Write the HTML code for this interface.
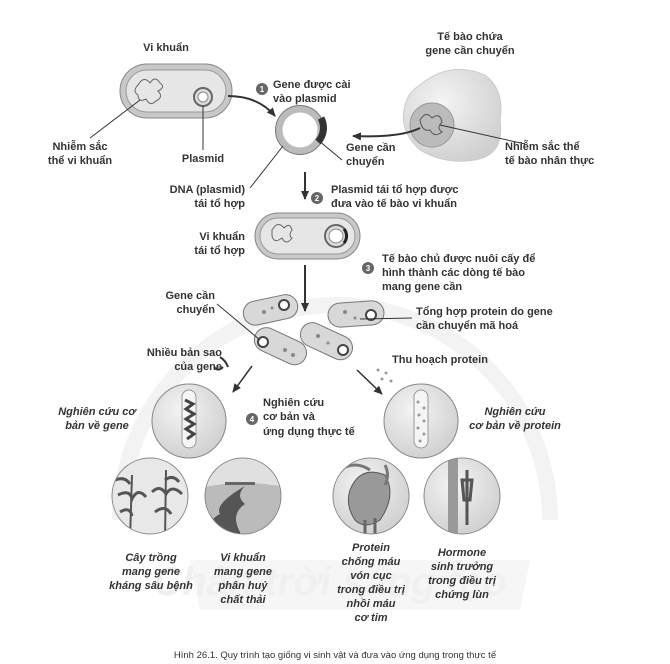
<!DOCTYPE html>
<html><head><meta charset="utf-8"><style>
body{margin:0;background:#fff}
svg{display:block}
text{font-family:"Liberation Sans",sans-serif;font-size:11px;font-weight:bold;fill:#333}
.i{font-style:italic}
.c{text-anchor:middle}
.r{text-anchor:end}
</style></head><body>
<svg width="670" height="664" viewBox="0 0 670 664">
<defs>
<marker id="a" markerUnits="userSpaceOnUse" markerWidth="10" markerHeight="10" refX="8" refY="5" orient="auto"><path d="M0,1 L9,5 L0,9 Z" fill="#333"/></marker>
<radialGradient id="g" cx="0.4" cy="0.35" r="0.7"><stop offset="0" stop-color="#f4f4f4"/><stop offset="1" stop-color="#cfcfcf"/></radialGradient>
<clipPath id="c1"><circle cx="150" cy="496" r="38"/></clipPath>
<clipPath id="c2"><circle cx="243" cy="496" r="38"/></clipPath>
<clipPath id="c3"><circle cx="371" cy="496" r="38"/></clipPath>
<clipPath id="c4"><circle cx="462" cy="496" r="38"/></clipPath>
</defs>
<!-- watermark -->
<path d="M120,520 A215,215 0 0 1 550,520" fill="none" stroke="#f3f3f3" stroke-width="16"/>
<path d="M190,560 L530,560 L520,610 L200,610 Z" fill="#f6f6f6"/>
<text x="330" y="595" class="c" style="font-size:40px;fill:#f0f0f0;font-style:italic">Chân trời sáng tạo</text>

<!-- bacterium 1 -->
<text x="166" y="51" class="c">Vi khuẩn</text>
<rect x="120" y="64" width="112" height="54" rx="27" fill="#c8c8c8" stroke="#888"/>
<rect x="126" y="70" width="100" height="42" rx="21" fill="#e6e6e6" stroke="#999"/>
<path d="M138,85 q6,-10 12,-2 q5,-8 10,0 q6,4 -2,8 q6,6 -2,10 q-6,6 -10,-2 q-8,4 -8,-4 q-6,-4 0,-10z" fill="none" stroke="#666"/>
<circle cx="203" cy="97" r="9" fill="#ddd" stroke="#666" stroke-width="2"/>
<circle cx="203" cy="97" r="5" fill="#fff" stroke="#888"/>
<line x1="140" y1="100" x2="90" y2="138" stroke="#333"/>
<line x1="203" y1="106" x2="203" y2="150" stroke="#333"/>
<text x="80" y="150" class="c">Nhiễm sắc</text>
<text x="80" y="164" class="c">thể vi khuẩn</text>
<text x="203" y="162" class="c">Plasmid</text>
<path d="M228,96 Q258,96 275,116" fill="none" stroke="#333" stroke-width="2" marker-end="url(#a)"/>
<circle cx="262" cy="89" r="6" fill="#666"/><text x="262" y="92" class="c" style="font-size:8px;fill:#fff">1</text>
<text x="273" y="88">Gene được cài</text>
<text x="273" y="102">vào plasmid</text>

<!-- plasmid -->
<circle cx="300" cy="130" r="21" fill="#fff" stroke="#bbb" stroke-width="7"/>
<circle cx="300" cy="130" r="24.5" fill="none" stroke="#777" stroke-width="1"/>
<path d="M321,118 A21,21 0 0 1 318,142" fill="none" stroke="#333" stroke-width="7"/>
<line x1="318" y1="140" x2="342" y2="160" stroke="#333"/>
<line x1="283" y1="146" x2="250" y2="188" stroke="#333"/>
<text x="346" y="151">Gene cần</text>
<text x="346" y="165">chuyển</text>

<!-- eukaryotic cell -->
<text x="470" y="40" class="c">Tế bào chứa</text>
<text x="470" y="54" class="c">gene cần chuyển</text>
<path d="M420,85 Q450,60 485,75 Q505,90 500,120 Q505,155 475,160 Q445,165 420,150 Q398,130 405,105 Q408,92 420,85Z" fill="url(#g)" stroke="#ccc"/>
<circle cx="432" cy="125" r="22" fill="#bbb" stroke="#999"/>
<path d="M420,120 q6,-10 12,-2 q8,-6 10,4 q-6,6 0,10 q-8,6 -12,-2 q-8,2 -10,-10z" fill="none" stroke="#555"/>
<line x1="440" y1="125" x2="525" y2="144" stroke="#333"/>
<path d="M420,128 Q400,138 353,136" fill="none" stroke="#333" stroke-width="2" marker-end="url(#a)"/>
<text x="505" y="150">Nhiễm sắc thể</text>
<text x="505" y="164">tế bào nhân thực</text>

<!-- step 2 -->
<text x="245" y="193" class="r">DNA (plasmid)</text>
<text x="245" y="207" class="r">tái tổ hợp</text>
<line x1="305" y1="172" x2="305" y2="199" stroke="#333" stroke-width="2" marker-end="url(#a)"/>
<circle cx="317" cy="198" r="6" fill="#666"/><text x="317" y="201" class="c" style="font-size:8px;fill:#fff">2</text>
<text x="331" y="193">Plasmid tái tổ hợp được</text>
<text x="331" y="207">đưa vào tế bào vi khuẩn</text>

<!-- bacterium 2 -->
<rect x="255" y="213" width="105" height="46" rx="23" fill="#c8c8c8" stroke="#888"/>
<rect x="260" y="218" width="95" height="36" rx="18" fill="#e6e6e6" stroke="#999"/>
<path d="M272,230 q6,-10 12,-2 q6,-6 8,2 q-4,6 0,8 q-6,8 -10,0 q-8,6 -10,-2z" fill="none" stroke="#666"/>
<circle cx="336" cy="236" r="11" fill="#ddd" stroke="#666" stroke-width="2"/>
<circle cx="336" cy="236" r="7" fill="#fff" stroke="#888"/>
<path d="M344,229 A11,11 0 0 1 344,243" fill="none" stroke="#222" stroke-width="3"/>
<text x="245" y="240" class="r">Vi khuẩn</text>
<text x="245" y="254" class="r">tái tổ hợp</text>

<!-- step 3 -->
<circle cx="368" cy="268" r="6" fill="#666"/><text x="368" y="271" class="c" style="font-size:8px;fill:#fff">3</text>
<text x="382" y="262">Tế bào chủ được nuôi cấy để</text>
<text x="382" y="276">hình thành các dòng tế bào</text>
<text x="382" y="290">mang gene cần</text>
<line x1="305" y1="265" x2="305" y2="311" stroke="#333" stroke-width="2" marker-end="url(#a)"/>

<!-- small bacteria -->
<g fill="#d8d8d8" stroke="#777">
<rect x="243" y="298" width="55" height="24" rx="12" transform="rotate(-12 270 310)"/>
<rect x="328" y="302" width="56" height="24" rx="12" transform="rotate(-4 356 314)"/>
<rect x="253" y="334" width="55" height="24" rx="12" transform="rotate(25 280 346)"/>
<rect x="299" y="329" width="55" height="24" rx="12" transform="rotate(25 326 341)"/>
</g>
<g fill="#fff" stroke="#444" stroke-width="2">
<circle cx="284" cy="305" r="5"/><circle cx="371" cy="315" r="5"/><circle cx="263" cy="342" r="5"/><circle cx="343" cy="350" r="5"/>
</g>
<g fill="#888"><circle cx="264" cy="312" r="2"/><circle cx="272" cy="308" r="1.5"/><circle cx="345" cy="312" r="2"/><circle cx="355" cy="318" r="1.5"/><circle cx="285" cy="350" r="2"/><circle cx="293" cy="355" r="2"/><circle cx="318" cy="336" r="2"/><circle cx="328" cy="343" r="1.5"/></g>
<text x="215" y="299" class="r">Gene cần</text>
<text x="215" y="313" class="r">chuyển</text>
<line x1="217" y1="304" x2="260" y2="340" stroke="#333"/>
<line x1="360" y1="319" x2="412" y2="318" stroke="#333"/>
<text x="416" y="315">Tổng hợp protein do gene</text>
<text x="416" y="329">cần chuyển mã hoá</text>
<text x="222" y="356" class="r">Nhiều bản sao</text>
<text x="222" y="370" class="r">của gene</text>
<path d="M214,367 q4,5 9,0 M220,357 q6,4 8,10" fill="none" stroke="#333" stroke-width="2"/>
<text x="392" y="363">Thu hoạch protein</text>
<g fill="#999"><circle cx="378" cy="370" r="1.5"/><circle cx="386" cy="373" r="1.5"/><circle cx="382" cy="379" r="1.5"/><circle cx="391" cy="381" r="1.5"/></g>
<line x1="252" y1="366" x2="233" y2="392" stroke="#333" stroke-width="1.5" marker-end="url(#a)"/>
<line x1="357" y1="370" x2="382" y2="394" stroke="#333" stroke-width="1.5" marker-end="url(#a)"/>

<!-- research circles -->
<circle cx="189" cy="421" r="37" fill="url(#g)" stroke="#888"/>
<rect x="182" y="390" width="14" height="58" rx="7" fill="#f5f5f5" stroke="#999"/>
<path d="M185,400 l8,4 -7,5 8,5 -8,5 8,5 -8,5 8,5 -7,5" fill="none" stroke="#444" stroke-width="3"/>
<circle cx="421" cy="421" r="37" fill="url(#g)" stroke="#888"/>
<rect x="414" y="390" width="14" height="58" rx="7" fill="#f5f5f5" stroke="#999"/>
<g fill="#999"><circle cx="418" cy="402" r="1.5"/><circle cx="424" cy="408" r="1.5"/><circle cx="419" cy="415" r="1.5"/><circle cx="424" cy="421" r="1.5"/><circle cx="418" cy="428" r="1.5"/><circle cx="424" cy="434" r="1.5"/><circle cx="420" cy="441" r="1.5"/></g>
<circle cx="252" cy="419" r="6" fill="#666"/><text x="252" y="422" class="c" style="font-size:8px;fill:#fff">4</text>
<text x="263" y="406">Nghiên cứu</text>
<text x="263" y="420">cơ bản và</text>
<text x="263" y="435">ứng dụng thực tế</text>
<text x="97" y="415" class="c i">Nghiên cứu cơ</text>
<text x="97" y="429" class="c i">bản về gene</text>
<text x="515" y="415" class="c i">Nghiên cứu</text>
<text x="515" y="429" class="c i">cơ bản về protein</text>

<!-- application circles -->
<circle cx="150" cy="496" r="38" fill="#e8e8e8"/>
<g clip-path="url(#c1)">
<path d="M130,540 L132,475 M165,540 L166,470" stroke="#555" stroke-width="2"/>
<path d="M118,495 q12,-6 14,4 q6,-12 14,-2 M152,492 q8,-8 14,2 q6,-10 16,0 M120,512 q10,-6 12,4 M155,512 q10,-8 16,2 M115,480 q10,-4 15,4 M165,480 q8,-6 14,2" fill="none" stroke="#555" stroke-width="3"/>
</g>
<circle cx="150" cy="496" r="38" fill="none" stroke="#888"/>
<circle cx="243" cy="496" r="38" fill="#e0e0e0"/>
<g clip-path="url(#c2)">
<path d="M200,488 Q243,478 290,488 L290,540 L200,540Z" fill="#bbb"/>
<path d="M245,486 q-10,10 0,18 q-15,10 -5,28 l0,10 -30,0 q-6,-20 10,-28 q-6,-10 25,-28z" fill="#555"/>
<rect x="225" y="482" width="30" height="3" fill="#666"/>
</g>
<circle cx="243" cy="496" r="38" fill="none" stroke="#888"/>
<circle cx="371" cy="496" r="38" fill="url(#g)"/>
<g clip-path="url(#c3)">
<path d="M350,490 q10,-25 35,-15 q12,20 -5,45 q-15,10 -25,0 q-10,-15 -5,-30z" fill="#999" stroke="#555"/>
<path d="M365,520 L365,540 M375,518 L375,540" stroke="#666" stroke-width="3"/>
<path d="M340,470 q15,-10 30,0 M385,465 q5,10 0,20" fill="none" stroke="#777" stroke-width="3"/>
</g>
<circle cx="371" cy="496" r="38" fill="none" stroke="#888"/>
<circle cx="462" cy="496" r="38" fill="url(#g)"/>
<g clip-path="url(#c4)">
<rect x="448" y="455" width="10" height="85" fill="#999"/>
<path d="M467,470 l0,55 M462,480 l10,0 l-2,20 -6,0z" stroke="#555" stroke-width="3" fill="#ccc"/>
</g>
<circle cx="462" cy="496" r="38" fill="none" stroke="#888"/>

<text x="151" y="561" class="c i">Cây trồng</text>
<text x="151" y="575" class="c i">mang gene</text>
<text x="151" y="589" class="c i">kháng sâu bệnh</text>
<text x="243" y="561" class="c i">Vi khuẩn</text>
<text x="243" y="575" class="c i">mang gene</text>
<text x="243" y="589" class="c i">phân huỷ</text>
<text x="243" y="603" class="c i">chất thải</text>
<text x="371" y="551" class="c i">Protein</text>
<text x="371" y="565" class="c i">chống máu</text>
<text x="371" y="579" class="c i">vón cục</text>
<text x="371" y="593" class="c i">trong điều trị</text>
<text x="371" y="607" class="c i">nhồi máu</text>
<text x="371" y="621" class="c i">cơ tim</text>
<text x="462" y="556" class="c i">Hormone</text>
<text x="462" y="570" class="c i">sinh trưởng</text>
<text x="462" y="584" class="c i">trong điều trị</text>
<text x="462" y="598" class="c i">chứng lùn</text>
<text x="335" y="658" class="c" style="font-size:9.5px;font-weight:normal;fill:#333">Hình 26.1. Quy trình tạo giống vi sinh vật và đưa vào ứng dụng trong thực tế</text>
</svg>
</body></html>
